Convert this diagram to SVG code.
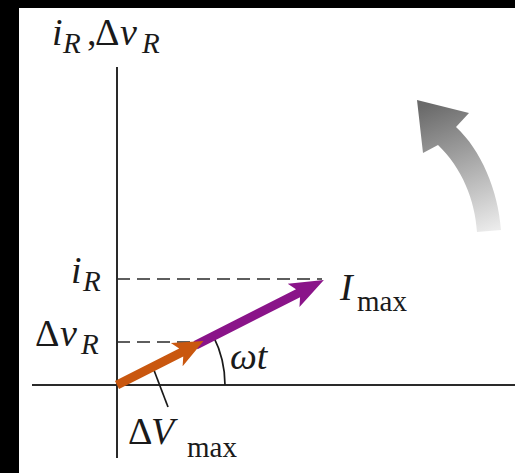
<svg xmlns="http://www.w3.org/2000/svg" width="515" height="473" viewBox="0 0 515 473">
<defs>
<style>
.ax{stroke:#2a2a2a;stroke-width:2;fill:none}
.dash{stroke:#2a2a2a;stroke-width:1.7;stroke-dasharray:13 7;fill:none}
.thin{stroke:#1a1a1a;stroke-width:1.7;fill:none}
.t{font-family:"Liberation Serif","Times New Roman",serif;font-size:38px;fill:#1a1a1a}
.it{font-style:italic}
.sub{font-size:29px}
</style>
<linearGradient id="g" gradientUnits="userSpaceOnUse" x1="440" y1="100" x2="490" y2="232">
<stop offset="0" stop-color="#6a6a6a"/>
<stop offset="1" stop-color="#ececec"/>
</linearGradient>
</defs>
<rect x="0" y="0" width="515" height="473" fill="#000"/>
<rect x="19" y="8" width="496" height="465" fill="#fff"/>

<g id="axes">
<line class="ax" x1="117" y1="67" x2="117" y2="458"/>
<line class="ax" x1="32" y1="385" x2="515" y2="385"/>
</g>

<g id="connectors">
<line class="dash" x1="117" y1="279" x2="322" y2="279"/>
<line class="dash" x1="117" y1="342" x2="198" y2="342"/>
<path class="thin" d="M225 385 A108 108 0 0 0 213.3 336.1"/>
<line class="thin" x1="152" y1="365" x2="168" y2="407"/>
</g>

<g id="imax-arrow" transform="translate(117 385) rotate(-26.9)">
<polygon fill="#8a1489" points="88,-4.5 203,-4.5 198,-13 232,0 198,13 203,4.5 88,4.5"/>
</g>
<g id="vmax-arrow" transform="translate(117 385) rotate(-26.9)">
<polygon fill="#c9570f" points="0,-4.5 72,-4.5 67,-13 97,0 67,13 72,4.5 0,4.5"/>
</g>

<g id="rotation-arrow">
<path fill="url(#g)" d="M477 232 C475 200 462 168 438 145 L423 153 L417 100 L469 113 L456 127 C481 150 498 190 501 230 Z"/>
</g>

<g id="labels">
<text class="t" y="45"><tspan class="it" x="52">i</tspan><tspan class="it sub" x="63" dy="8">R</tspan><tspan x="87" dy="-8">,</tspan><tspan x="95">Δ</tspan><tspan class="it" x="120">v</tspan><tspan class="it sub" x="142" dy="8">R</tspan></text>
<text class="t" y="283"><tspan class="it" x="71">i</tspan><tspan class="it sub" x="83" dy="8">R</tspan></text>
<text class="t" y="346"><tspan x="35">Δ</tspan><tspan class="it" x="60">v</tspan><tspan class="it sub" x="81" dy="8">R</tspan></text>
<text class="t" y="300"><tspan class="it" x="340">I</tspan><tspan class="sub" x="357" dy="11">max</tspan></text>
<text class="t it" x="230" y="369">ωt</text>
<text class="t" y="444"><tspan x="128">Δ</tspan><tspan class="it" x="151">V</tspan><tspan class="sub" x="187" dy="13">max</tspan></text>
</g>
</svg>
